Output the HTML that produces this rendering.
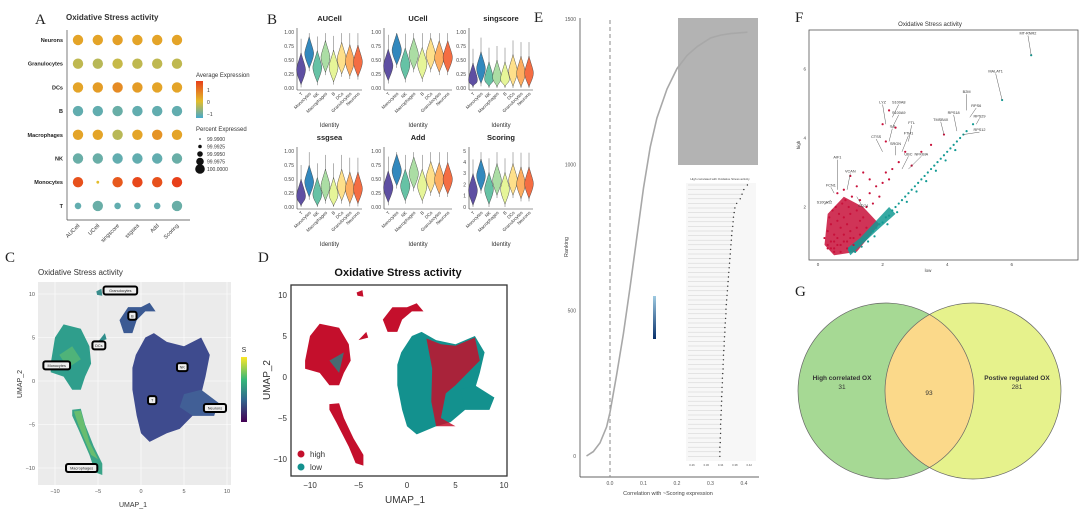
<!DOCTYPE html>
<html><head><meta charset="utf-8"><style>
html,body{margin:0;padding:0;background:#fff;width:1080px;height:514px;overflow:hidden}
svg{display:block;font-family:"Liberation Sans",sans-serif}
.pl{font-family:"Liberation Serif",serif;font-size:15px;fill:#222}
</style></head><body>
<svg id="s" width="1080" height="514" viewBox="0 0 1080 514">
<text class="pl" x="35" y="24">A</text>
<text class="pl" x="267" y="24">B</text>
<text class="pl" x="5" y="262">C</text>
<text class="pl" x="258" y="262">D</text>
<text class="pl" x="534" y="22">E</text>
<text class="pl" x="795" y="22">F</text>
<text class="pl" x="795" y="296">G</text>
</svg>
<script>
// ---- data: panel A ----
const dotRows=['Neurons','Granulocytes','DCs','B','Macrophages','NK','Monocytes','T'];
const dotCols=['AUCell','UCell','singscore','ssgsea','Add','Scoring'];
const dotAvg=[[0.3,0.3,0.35,0.3,0.3,0.3],[-0.25,-0.3,-0.2,-0.25,-0.25,-0.25],[0.3,0.4,0.6,0.4,0.3,0.3],[-0.9,-0.9,-0.85,-0.9,-0.9,-0.9],[0.3,0.3,-0.3,0.3,0.5,0.3],[-0.85,-0.85,-0.9,-0.9,-0.9,-0.85],[1.3,0.0,1.2,1.4,1.3,1.5],[-0.9,-0.85,-0.9,-0.9,-0.9,-0.85]];
const dotPct=[[100,100,100,100,100,100],[100,100,100,100,100,100],[100,100,100,100,100,100],[100,100,100,100,100,100],[100,100,100,100,100,100],[100,100,100,100,100,100],[100,99.99,100,100,100,100],[99.995,100,99.995,99.995,99.995,100]];
const pctLegend=['99.9900','99.9925','99.9950','99.9975','100.0000'];
// ---- data: panel B ----
const vioCells=['T','Monocytes','NK','Macrophages','B','DCs','Granulocytes','Neurons'];
const vioMethods=['AUCell','UCell','singscore','ssgsea','Add','Scoring'];
const vioMax=[1,1,1,1,1,5];
const vioAUCell=[0.33,0.62,0.37,0.55,0.38,0.52,0.48,0.47];
const vioUCell=[0.40,0.68,0.42,0.60,0.43,0.60,0.55,0.55];
const vioSing=[0.15,0.35,0.17,0.20,0.17,0.30,0.27,0.27];
const vioSsg=[0.20,0.45,0.23,0.38,0.23,0.38,0.33,0.33];
const vioAdd=[0.35,0.65,0.38,0.60,0.38,0.52,0.50,0.50];
const vioScore=[1.5,2.8,1.6,2.4,1.6,2.4,2.1,2.1];
const vioTicks1=['0.00','0.25','0.50','0.75','1.00'];
const vioTicks5=['0','1','2','3','4','5'];
// ---- data: panel E ----
const corrVals=[-0.07,-0.05,-0.03,-0.01,0.0,0.02,0.04,0.06,0.08,0.10,0.12,0.14,0.17,0.20,0.23,0.26,0.30,0.33,0.36,0.41];
const rankVals=[0,15,45,100,150,280,420,580,750,920,1060,1160,1260,1330,1375,1405,1435,1445,1450,1455];
const eXTicks=['0.0','0.1','0.2','0.3','0.4'];
const eYTicks=['0','500','1000','1500'];
const lolliVals=[0.415,0.405,0.40,0.395,0.385,0.38,0.378,0.376,0.375,0.374,0.372,0.371,0.37,0.369,0.368,0.367,0.366,0.365,0.364,0.363,0.362,0.361,0.36,0.359,0.358,0.357,0.356,0.355,0.355,0.354,0.353,0.352,0.352,0.351,0.35,0.35,0.349,0.348,0.348,0.347,0.347,0.346,0.345,0.345,0.344,0.344,0.343,0.343,0.342,0.342,0.341,0.341,0.34,0.34,0.34,0.339,0.339,0.338,0.338,0.338];
const lolliTicks=['0.26','0.30','0.34','0.38','0.42'];
// ---- data: panel F ----
const redLow=[0.3,0.4,0.5,0.6,0.7,0.8,0.9,1.0,1.1,1.2,0.3,0.4,0.5,0.6,0.7,0.8,0.9,1.0,1.2,1.3,0.2,0.35,0.45,0.55,0.65,0.75,0.85,0.95,1.05,1.3,1.5,1.4,1.6,1.7,1.8,1.9,2.0,2.1,2.2,2.3,2.5,2.7,2.9,3.2,3.5,3.9,0.6,0.8,1.2,1.0,1.4,1.6,2.0,2.2,2.4,2.1,1.1,1.3,1.5,0.5,0.7,0.9,0.4,0.6,0.8,1.0,0.3,0.5];
const redHigh=[0.9,1.0,0.8,1.1,0.9,1.2,1.0,1.3,1.1,1.4,1.3,1.5,1.2,1.6,1.4,1.7,1.5,1.8,1.9,1.6,1.1,1.7,1.9,2.0,1.8,2.1,2.2,2.0,2.3,2.2,2.0,1.7,2.4,2.1,2.6,2.3,2.7,3.0,2.8,3.1,3.3,3.6,3.2,3.6,3.8,4.1,2.4,2.5,2.6,2.9,3.0,2.8,4.4,4.8,4.3,3.9,0.9,1.2,1.4,0.7,0.7,0.8,0.8,0.9,1.0,1.1,0.8,1.0];
const tealLow=[1.0,1.1,1.2,1.3,1.4,1.5,1.6,1.7,1.8,1.9,2.0,2.1,2.2,2.3,2.4,2.5,2.6,2.7,2.8,2.9,3.0,3.1,3.2,3.3,3.4,3.5,3.6,3.7,3.8,3.9,4.0,4.1,4.2,4.3,4.4,4.5,4.6,4.8,1.15,1.35,1.55,1.75,2.15,2.45,2.75,3.05,3.35,3.65,3.95,4.25,5.7,6.6];
const tealHigh=[0.75,0.8,0.9,0.95,1.05,1.1,1.2,1.3,1.4,1.5,1.55,1.7,1.75,1.9,2.0,2.1,2.2,2.3,2.4,2.5,2.6,2.7,2.8,2.9,3.0,3.1,3.2,3.3,3.4,3.5,3.6,3.7,3.8,3.9,4.0,4.1,4.2,4.4,0.7,0.85,1.0,1.15,1.5,1.85,2.15,2.45,2.75,3.05,3.35,3.65,5.1,6.4];
const geneNames=['MT-RNR2','MALAT1','B2M','RPS6','RPS18','RPS29','TMSB4X','RPS12','LYZ','S100A8','S100A9','IL8','CTSS','FTL','FTH1','SRGN','UBC','AIF1','VCAN','FCN1','S100A12','CD74','NFKBIA'];
const geneLow=[6.6,5.7,4.6,4.7,4.3,4.9,3.9,4.5,2.1,2.3,2.3,2.2,2.0,2.8,2.6,2.4,2.6,0.6,0.9,0.5,0.4,1.2,2.8];
const geneHigh=[6.4,5.1,4.8,4.6,4.2,4.4,4.1,4.1,4.4,4.6,4.3,3.9,3.6,3.9,3.6,3.5,3.1,2.5,2.5,2.4,2.2,2.3,3.1];
const geneLabX=[6.5,5.5,4.6,4.9,4.2,5.0,3.8,5.0,2.0,2.5,2.5,2.3,1.8,2.9,2.8,2.4,2.8,0.6,1.0,0.4,0.2,1.4,3.2];
const geneLabY=[7.0,5.9,5.3,4.9,4.7,4.6,4.5,4.2,5.0,5.0,4.7,4.3,4.0,4.4,4.1,3.8,3.5,3.4,3.0,2.6,2.1,2.0,3.5];
const fTicks=['0','2','4','6'];
// ---- data: panel G ----
const vennCounts=[31,93,281];
const vennLabels=['High correlated OX','Postive regulated OX'];

const S=document.getElementById('s');
const NS='http://www.w3.org/2000/svg';
function mk(tag,a,txt){const e=document.createElementNS(NS,tag);for(const k in a)e.setAttribute(k,a[k]);if(txt!==undefined)e.textContent=txt;S.appendChild(e);return e;}
function lerp(a,b,t){return a+(b-a)*t}
function hex(c){return[parseInt(c.substr(1,2),16),parseInt(c.substr(3,2),16),parseInt(c.substr(5,2),16)]}
function cmap(v){const st=[[-1.1,'#45a9cc'],[0,'#e3bd2b'],[1.5,'#e8401a']];let i=v<=0?0:1;let t=(v-st[i][0])/(st[i+1][0]-st[i][0]);t=Math.max(0,Math.min(1,t));const a=hex(st[i][1]),b=hex(st[i+1][1]);return 'rgb('+a.map((x,j)=>Math.round(lerp(x,b[j],t))).join(',')+')';}

// ===== Panel A =====
let e;
e=mk('text',{x:66,y:20,'font-size':8,'font-weight':'bold',fill:'#333'},'Oxidative Stress activity');

e=mk('line',{x1:67,y1:30,x2:67,y2:220,stroke:'#444','stroke-width':0.7});

e=mk('line',{x1:67,y1:220,x2:190,y2:220,stroke:'#444','stroke-width':0.7});

const ax=i=>78+i*19.8, ay=i=>40+i*23.7;
const rsz=p=>Math.max(0.6,5.2-(100-p)*380);
dotRows.forEach((r,i)=>{
 e=mk('text',{x:63,y:ay(i)+2,'font-size':5.5,'font-weight':'bold','text-anchor':'end',fill:'#222'},r);
 
 dotCols.forEach((c,j)=>{
  e=mk('circle',{cx:ax(j),cy:ay(i),r:rsz(dotPct[i][j]),fill:cmap(dotAvg[i][j])});
  
 });
});
dotCols.forEach((c,j)=>{
 e=mk('text',{x:ax(j)+2,y:226,'font-size':5.5,'text-anchor':'end',fill:'#333',transform:'rotate(-45 '+(ax(j)+2)+' 226)'},c);
 
});
e=mk('text',{x:196,y:77,'font-size':6,fill:'#333'},'Average Expression');

const dg=mk('linearGradient',{id:'dg',x1:0,y1:1,x2:0,y2:0});
[['0','#45a9cc'],['0.45','#e3bd2b'],['1','#e8401a']].forEach(s=>{const st=document.createElementNS(NS,'stop');st.setAttribute('offset',s[0]);st.setAttribute('stop-color',s[1]);dg.appendChild(st);});
e=mk('rect',{x:196,y:81,width:7,height:37,fill:'url(#dg)'});

['1','0','−1'].forEach((t,k)=>{e=mk('text',{x:207,y:92+k*12,'font-size':5,fill:'#333'},t);
 });
e=mk('text',{x:196,y:131,'font-size':6,fill:'#333'},'Percent Expressed');

pctLegend.forEach((t,k)=>{
 e=mk('circle',{cx:200,cy:139+k*7.5,r:0.8+k*1,fill:'#111'});
 
 e=mk('text',{x:207,y:141+k*7.5,'font-size':5,fill:'#333'},t);
 
});

// ===== Panel B =====
const vioData=[vioAUCell,vioUCell,vioSing,vioSsg,vioAdd,vioScore];
const vioCols=['#5e4fa2','#3288bd','#66c2a5','#abdda4','#e6f598','#fee08b','#fdae61','#f46d43'];
const px=[[297,362],[384,452],[469,533]];
const py=[[32,88],[151,207]];
vioMethods.forEach((m,k)=>{
 const [x0,x1]=px[k%3],[y0,y1]=py[Math.floor(k/3)];
 const mx=vioMax[k];const yv=v=>y1-(v/mx)*(y1-y0);
 e=mk('text',{x:(x0+x1)/2,y:y0-11,'font-size':7.5,'font-weight':'bold','text-anchor':'middle',fill:'#222'},m);
 
 e=mk('line',{x1:x0,y1:y0-4,x2:x0,y2:y1+2,stroke:'#333','stroke-width':0.6});
 
 e=mk('line',{x1:x0,y1:y1+2,x2:x1,y2:y1+2,stroke:'#333','stroke-width':0.6});
 
 const ticks=mx===5?vioTicks5:vioTicks1;
 ticks.forEach(t=>{const y=yv(parseFloat(t));
  e=mk('text',{x:x0-3,y:y+1.8,'font-size':5,'text-anchor':'end',fill:'#444'},t);
  });
 const step=(x1-x0)/8;
 vioData[k].forEach((v,i)=>{
  const cx=x0+step*(i+0.5);const sp=0.27*mx;
  const lo=Math.max(0.02*mx,v-sp),hi=Math.min(mx,v+sp*1.1);
  e=mk('line',{x1:cx,y1:yv(Math.max(0,v-0.32*mx)),x2:cx,y2:yv(Math.min(mx*0.98,v+0.55*mx)),stroke:'#666','stroke-width':0.5});
  
  const w=step*0.55,yc=yv(v);
  e=mk('path',{d:`M${cx},${yv(hi)} C${cx+w*0.4},${yc-10} ${cx+w},${yc-3} ${cx+w},${yc} C${cx+w},${yc+5} ${cx+w*0.3},${yv(lo)-4} ${cx},${yv(lo)} C${cx-w*0.3},${yv(lo)-4} ${cx-w},${yc+5} ${cx-w},${yc} C${cx-w},${yc-3} ${cx-w*0.4},${yc-10} ${cx},${yv(hi)}Z`,fill:vioCols[i],stroke:'#333','stroke-width':0.4});
  
  e=mk('text',{x:cx+2,y:y1+6,'font-size':4.5,'text-anchor':'end',fill:'#333',transform:`rotate(-45 ${cx+2} ${y1+6})`},vioCells[i]);
  
 });
 e=mk('text',{x:(x0+x1)/2,y:y1+39,'font-size':6,'text-anchor':'middle',fill:'#333'},'Identity');
 
});

// ===== Panel C & D UMAP =====
function blob(pts,fx,fy){return 'M'+pts.map(p=>fx(p[0]).toFixed(1)+','+fy(p[1]).toFixed(1)).join(' L')+'Z';}
const shMono=[[-10.5,2],[-10,5],[-9,6.5],[-7,6],[-6,4],[-5.8,2],[-6.5,0.5],[-7,-1],[-8,-1],[-9,0.5],[-10.5,1]];
const shBig=[[-0.6,3],[0.5,5],[1.5,5.5],[3,4.5],[5,4],[7,5],[8,3],[7.5,0.5],[7,-1.5],[9,-2.5],[8.5,-4],[6,-4],[4.5,-5.5],[3,-6],[1,-7],[0,-6],[-0.5,-4],[-1,-1],[-1,1.5]];
const shMac=[[-8,-3.3],[-7,-3.2],[-6.5,-5],[-5.5,-7.5],[-4.5,-9.5],[-4.5,-10.8],[-5.3,-10.5],[-6,-8.5],[-7.3,-5.5],[-8,-4]];
const shB=[[-2.5,7],[-1.5,8.5],[0,8.5],[1,9],[1.7,8],[0.5,8],[-0.5,7],[-1,5.5],[-2,5.5]];
const shG=[[-5.2,10.3],[-4.6,10.6],[-4.5,9.8],[-5.1,9.9]];
const shD=[[-5,4.5],[-4.2,5.5],[-4,4.8]];
const shNeur=[[5,-1.5],[7,-1],[9,-2.5],[8.5,-4],[6,-4],[4.5,-3]];
// C
const cx=u=>141+8.6*u, cy=v=>381-8.7*v;
e=mk('text',{x:38,y:275,'font-size':8,fill:'#333'},'Oxidative Stress activity');

e=mk('rect',{x:38,y:282,width:193,height:203,fill:'#ebebeb'});

[-10,-5,0,5,10].forEach(t=>{
 e=mk('line',{x1:cx(t),y1:282,x2:cx(t),y2:485,stroke:'#fff','stroke-width':0.6});
 
 e=mk('line',{x1:38,y1:cy(t),x2:231,y2:cy(t),stroke:'#fff','stroke-width':0.6});
 
 e=mk('text',{x:cx(t),y:493,'font-size':5.5,'text-anchor':'middle',fill:'#555'},String(t).replace('-','−'));
 
 e=mk('text',{x:35,y:cy(t)+2,'font-size':5.5,'text-anchor':'end',fill:'#555'},String(t).replace('-','−'));
 
});
[[shMono,'#2f9e8c'],[shBig,'#3e4b8e'],[shMac,'#3aa488'],[shB,'#3b5a93'],[shG,'#3a8d8c'],[shD,'#2f8e8c'],[shNeur,'#415f96']].forEach((s,i)=>{
 e=mk('path',{d:blob(s[0],cx,cy),fill:s[1]});
 
});
e=mk('path',{d:blob([[-9.5,3],[-8,4],[-7,2.5],[-8.5,1.5]],cx,cy),fill:'#5cbc70',opacity:0.7});

e=mk('path',{d:blob([[-7.8,-3.5],[-7,-3.4],[-6,-7],[-5,-9],[-5.8,-8.5],[-7.3,-5]],cx,cy),fill:'#7cc865',opacity:0.7});

[['Granulocytes',-2.4,10.4],['B',-1,7.5],['DCs',-4.9,4.1],['Monocytes',-9.8,1.8],['NK',4.8,1.6],['T',1.3,-2.2],['Neurons',8.6,-3.1],['Macrophages',-6.9,-10]].forEach(l=>{
 const w=l[0].length*2.3+6;
 e=mk('rect',{x:cx(l[1])-w/2,y:cy(l[2])-4,width:w,height:8,rx:2,fill:'#eee',stroke:'#000','stroke-width':2});
 
 e=mk('text',{x:cx(l[1]),y:cy(l[2])+1.5,'font-size':3.8,'text-anchor':'middle',fill:'#222'},l[0]);
 
});
e=mk('text',{x:133,y:507,'font-size':7,'text-anchor':'middle',fill:'#333'},'UMAP_1');

e=mk('text',{x:22,y:384,'font-size':7,'text-anchor':'middle',fill:'#333',transform:'rotate(-90 22 384)'},'UMAP_2');

const cg=mk('linearGradient',{id:'cg',x1:0,y1:1,x2:0,y2:0});
[['0','#440154'],['0.35','#31688e'],['0.65','#35b779'],['1','#fde725']].forEach(s=>{const st=document.createElementNS(NS,'stop');st.setAttribute('offset',s[0]);st.setAttribute('stop-color',s[1]);cg.appendChild(st);});
e=mk('text',{x:244,y:352,'font-size':7,'text-anchor':'middle',fill:'#333'},'S');

e=mk('rect',{x:241,y:357,width:6,height:65,fill:'url(#cg)'});

// D
const dx=u=>407+9.7*u, dy=v=>377-8.2*v;
e=mk('text',{x:398,y:276,'font-size':11,'font-weight':'bold','text-anchor':'middle',fill:'#111'},'Oxidative Stress activity');

[[shMono,'#c40f2c'],[shBig,'#13918e'],[shMac,'#c40f2c'],[shB,'#c40f2c'],[shG,'#c40f2c'],[shD,'#c40f2c']].forEach(s=>{
 e=mk('path',{d:blob(s[0],dx,dy),fill:s[1]});
 
});
e=mk('path',{d:blob([[2,4.7],[3.5,4],[5,3.8],[7,4.8],[7.5,2],[5,-1],[4,-2],[3.5,-5],[5,-6],[3,-6],[2.5,-3],[2.6,1]],dx,dy),fill:'#c40f2c',opacity:0.85});

e=mk('path',{d:blob([[5.5,-1.5],[7,-1],[9,-2.5],[8.5,-4],[6,-4]],dx,dy),fill:'#13918e'});

e=mk('path',{d:blob([[-8,2],[-6.5,3],[-7,0.5]],dx,dy),fill:'#13918e',opacity:0.7});

e=mk('rect',{x:291,y:285,width:216,height:191,fill:'none',stroke:'#333','stroke-width':1.3});

[-10,-5,0,5,10].forEach(t=>{
 e=mk('text',{x:dx(t),y:488,'font-size':8,'text-anchor':'middle',fill:'#333'},String(t).replace('-','−'));
 
 e=mk('text',{x:287,y:dy(t)+3,'font-size':8,'text-anchor':'end',fill:'#333'},String(t).replace('-','−'));
 
});
e=mk('text',{x:405,y:503,'font-size':10,'text-anchor':'middle',fill:'#333'},'UMAP_1');

e=mk('text',{x:270,y:380,'font-size':10,'text-anchor':'middle',fill:'#333',transform:'rotate(-90 270 380)'},'UMAP_2');

[['high','#c40f2c',454],['low','#13918e',467]].forEach(l=>{
 e=mk('circle',{cx:301,cy:l[2],r:3.5,fill:l[1]});
 
 e=mk('text',{x:310,y:l[2]+3,'font-size':8,fill:'#333'},l[0]);
 
});

// ===== Panel E =====
const ex=c=>610+335*c, ey=r=>456-0.2913*r;
e=mk('rect',{x:678,y:18,width:80,height:147,fill:'#b3b3b3'});

e=mk('line',{x1:580,y1:18,x2:580,y2:477,stroke:'#333','stroke-width':0.7});

e=mk('line',{x1:580,y1:477,x2:759,y2:477,stroke:'#333','stroke-width':0.7});

e=mk('line',{x1:ex(0),y1:20,x2:ex(0),y2:477,stroke:'#888','stroke-width':1,'stroke-dasharray':'4,3'});

eXTicks.forEach(t=>{e=mk('text',{x:ex(parseFloat(t)),y:485,'font-size':5,'text-anchor':'middle',fill:'#555'},t);
 });
eYTicks.forEach(t=>{e=mk('text',{x:576,y:ey(parseFloat(t))+2,'font-size':5,'text-anchor':'end',fill:'#555'},t);
 });
e=mk('path',{d:'M'+corrVals.map((c,i)=>ex(c).toFixed(1)+','+ey(rankVals[i]).toFixed(1)).join(' L'),fill:'none',stroke:'#a8a8a8','stroke-width':1.6});

e=mk('text',{x:668,y:495,'font-size':5.5,'text-anchor':'middle',fill:'#444'},'Correlation with ~Scoring expression');

e=mk('text',{x:568,y:247,'font-size':5.5,'text-anchor':'middle',fill:'#444',transform:'rotate(-90 568 247)'},'Ranking');

e=mk('text',{x:720,y:180,'font-size':3,'text-anchor':'middle',fill:'#444'},'High correlated with Oxidative Stress activity');

e=mk('rect',{x:686,y:183,width:70,height:278,fill:'#f7f7f7'});

const lx=v=>692+(v-0.26)/0.04*14.3;
lolliVals.forEach((v,i)=>{const y=185+i*4.6;
 e=mk('line',{x1:688,y1:y,x2:lx(v),y2:y,stroke:'#cfcfcf','stroke-width':0.5});
 
 e=mk('circle',{cx:lx(v),cy:y,r:0.7,fill:'#333'});
 
});
lolliTicks.forEach(t=>{e=mk('text',{x:lx(parseFloat(t)),y:466,'font-size':2.8,'text-anchor':'middle',fill:'#555'},t);
 });
const bg=mk('linearGradient',{id:'bg',x1:0,y1:1,x2:0,y2:0});
[['0','#08306b'],['1','#9ecae1']].forEach(s=>{const st=document.createElementNS(NS,'stop');st.setAttribute('offset',s[0]);st.setAttribute('stop-color',s[1]);bg.appendChild(st);});
e=mk('rect',{x:653,y:296,width:3,height:43,fill:'url(#bg)'});


// ===== Panel F =====
const fx=u=>818+32.3*u, fy=v=>276-34.5*v;
e=mk('text',{x:930,y:26,'font-size':6,'text-anchor':'middle',fill:'#333'},'Oxidative Stress activity');

e=mk('rect',{x:809,y:30,width:269,height:230,fill:'none',stroke:'#555','stroke-width':0.8});

fTicks.forEach(t=>{const v=parseFloat(t);
 e=mk('text',{x:fx(v),y:266,'font-size':4.5,'text-anchor':'middle',fill:'#444'},t);
 
 if(v>0){e=mk('text',{x:806,y:fy(v)+1.5,'font-size':4.5,'text-anchor':'end',fill:'#444'},t);
 }
});
e=mk('text',{x:928,y:272,'font-size':4.5,'text-anchor':'middle',fill:'#444'},'low');

e=mk('text',{x:800,y:145,'font-size':4.5,'text-anchor':'middle',fill:'#444',transform:'rotate(-90 800 145)'},'high');

e=mk('path',{d:blob([[0.2,0.9],[0.3,1.8],[0.8,2.3],[1.4,2.0],[1.9,1.5],[1.2,0.7],[0.5,0.6]],fx,fy),fill:'#c8103a',opacity:0.85});

e=mk('path',{d:blob([[1.0,0.6],[1.8,1.3],[2.4,1.8],[2.2,2.0],[1.3,1.1],[0.9,0.8]],fx,fy),fill:'#139a93',opacity:0.85});

redLow.forEach((u,i)=>{e=mk('circle',{cx:fx(u),cy:fy(redHigh[i]),r:1.1,fill:'#c8103a'});
 });
tealLow.forEach((u,i)=>{e=mk('circle',{cx:fx(u),cy:fy(tealHigh[i]),r:1.1,fill:'#139a93'});
 });
geneNames.forEach((g,i)=>{
 e=mk('line',{x1:fx(geneLow[i]),y1:fy(geneHigh[i]),x2:fx(geneLabX[i]),y2:fy(geneLabY[i])+1,stroke:'#333','stroke-width':0.4});
 
 e=mk('text',{x:fx(geneLabX[i]),y:fy(geneLabY[i]),'font-size':3.8,'text-anchor':'middle',fill:'#333'},g);
 
});

// ===== Panel G =====
const LC={x:886,y:391,r:88}, RC={x:973,y:391,r:88};
e=mk('circle',{cx:LC.x,cy:LC.y,r:LC.r,fill:'#a6d994'});

e=mk('circle',{cx:RC.x,cy:RC.y,r:RC.r,fill:'#e6f28c'});

const cp=mk('clipPath',{id:'vc'});
const vc=document.createElementNS(NS,'circle');vc.setAttribute('cx',LC.x);vc.setAttribute('cy',LC.y);vc.setAttribute('r',LC.r);cp.appendChild(vc);
e=mk('circle',{cx:RC.x,cy:RC.y,r:RC.r,fill:'#fbd98a','clip-path':'url(#vc)'});

e=mk('circle',{cx:LC.x,cy:LC.y,r:LC.r,fill:'none',stroke:'#666','stroke-width':0.7});

e=mk('circle',{cx:RC.x,cy:RC.y,r:RC.r,fill:'none',stroke:'#666','stroke-width':0.7});

e=mk('text',{x:842,y:380,'font-size':6.5,'font-weight':'bold','text-anchor':'middle',fill:'#333'},vennLabels[0]);

e=mk('text',{x:842,y:389,'font-size':6.5,'text-anchor':'middle',fill:'#333'},String(vennCounts[0]));

e=mk('text',{x:929,y:395,'font-size':6.5,'text-anchor':'middle',fill:'#333'},String(vennCounts[1]));

e=mk('text',{x:1017,y:380,'font-size':6.5,'font-weight':'bold','text-anchor':'middle',fill:'#333'},vennLabels[1]);

e=mk('text',{x:1017,y:389,'font-size':6.5,'text-anchor':'middle',fill:'#333'},String(vennCounts[2]));

</script>
</body></html>
